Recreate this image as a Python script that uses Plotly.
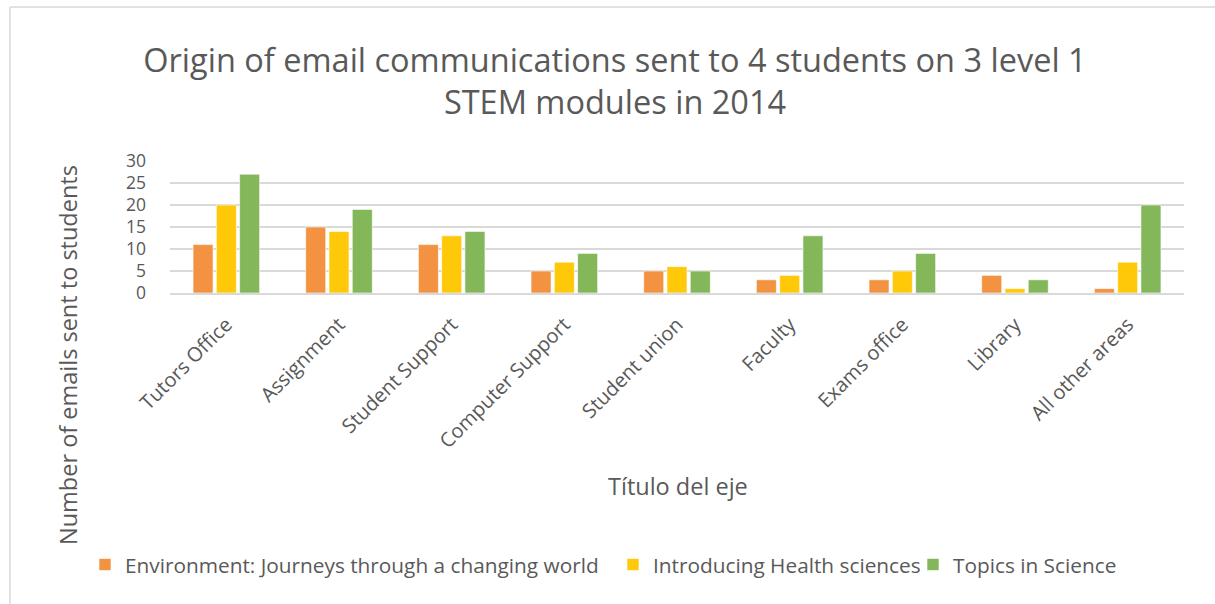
import plotly.graph_objects as go

categories = ["Tutors Office", "Assignment", "Student Support", "Computer Support",
              "Student union", "Faculty", "Exams office", "Library", "All other areas"]
environment = [11, 15, 11, 5, 5, 3, 3, 4, 1]
health = [20, 14, 13, 7, 6, 4, 5, 1, 7]
science = [27, 19, 14, 9, 5, 13, 9, 3, 20]
series_names = ["Environment: Journeys through a changing world",
                "Introducing Health sciences", "Topics in Science"]
y_ticks = [0, 5, 10, 15, 20, 25, 30]

colors = ["#F39240", "#FFC90A", "#83B75A"]
FONT = "Open Sans"
GRAY = "#595959"

L, R, T, B = 170, 31, 161, 311
W, H = 1215, 604
ph = H - T - B
pw = W - L - R

def py(pix):
    return (H - B - pix) / ph

def px(pix):
    return (pix - L) / pw

legend_ids = ["legend", "legend2", "legend3"]
legend_text_x = [125, 653, 953]

fig = go.Figure()
for name, vals, c, lid in zip(series_names, [environment, health, science], colors, legend_ids):
    fig.add_trace(go.Bar(x=categories, y=vals, name=name, marker_color=c, legend=lid,
                         marker_line=dict(color="rgba(255,255,255,0.6)", width=1)))

legend_layout = {}
for lid, tx in zip(legend_ids, legend_text_x):
    legend_layout[lid] = dict(orientation="h", x=(tx - 40) / W, xanchor="left", xref="container",
                              y=1 - 565 / H, yanchor="middle", yref="container",
                              bgcolor="rgba(0,0,0,0)", itemwidth=30,
                              font=dict(size=20.8, color=GRAY, family=FONT))

fig.update_layout(
    width=W, height=H,
    margin=dict(l=L, r=R, t=T, b=B, autoexpand=False),
    paper_bgcolor="white", plot_bgcolor="white",
    barmode="group", bargap=0.38, bargroupgap=0.14,
    font=dict(family=FONT, color=GRAY),
    title=dict(text="Origin of email communications sent to 4 students on 3 level 1<br>STEM modules in 2014",
               x=615 / W, xanchor="center", xref="container",
               y=1 - 72 / H, yanchor="middle", yref="container",
               font=dict(size=32.5, color=GRAY, family=FONT)),
    showlegend=True,
    xaxis=dict(tickangle=-45, tickfont=dict(size=20, color=GRAY), showgrid=False,
               showline=True, linecolor="#d9d9d9", linewidth=2, ticks="",
               ticklabelstandoff=10, automargin=False),
    yaxis=dict(range=[0, 30], tickvals=y_ticks, tickfont=dict(size=17.5, color=GRAY),
               showgrid=True, gridcolor="#d9d9d9", gridwidth=2, zeroline=False,
               showline=False, ticks="", ticklabelstandoff=23, automargin=False),
    **legend_layout,
)

fig.add_annotation(text="Título del eje", xref="paper", yref="paper",
                   x=px(678), y=py(486), xanchor="center", yanchor="middle", showarrow=False,
                   font=dict(size=23.5, color=GRAY, family=FONT))
fig.add_annotation(text="Number of emails sent to students", xref="paper", yref="paper",
                   x=px(68), y=py(355), xanchor="center", yanchor="middle",
                   showarrow=False, textangle=-90,
                   font=dict(size=23.5, color=GRAY, family=FONT))

# chart frame
fig.add_shape(type="line", xref="paper", yref="paper", x0=px(10), x1=px(1300),
              y0=py(7), y1=py(7), line=dict(color="#d9d9d9", width=1.5))
fig.add_shape(type="line", xref="paper", yref="paper", x0=px(10), x1=px(10),
              y0=py(7), y1=py(700), line=dict(color="#d9d9d9", width=1.5))

fig.write_html("out.html", config={"displayModeBar": False},
               post_script="document.body.style.margin='0';")
